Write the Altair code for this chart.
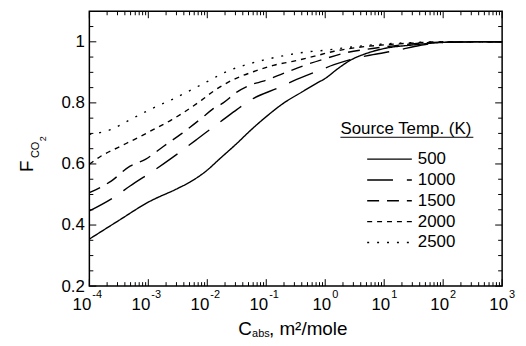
import altair as alt
import pandas as pd

# ---------------- data ----------------
temps = ["500", "1000", "1500", "2000", "2500"]

lx_500 = [-4, -3.5, -3, -2.5, -2.3, -2, -1.8, -1.5, -1.25, -1, -0.7, -0.4, -0.13, 0, 0.2, 0.43, 0.7, 1, 1.5, 2, 2.5, 3]
f_500 = [0.354, 0.415, 0.475, 0.52, 0.54, 0.58, 0.615, 0.667, 0.713, 0.755, 0.80, 0.835, 0.866, 0.88, 0.91, 0.94, 0.962, 0.978, 0.99, 0.998, 1.0, 1.0]

lx_1000 = [-4, -3.55, -3.31, -2.88, -2.6, -2.18, -1.92, -1.73, -1.5, -1.25, -0.8, -0.55, -0.13, 0.15, 0.43, 0.81, 1.22, 1.6, 2, 3]
f_1000 = [0.446, 0.495, 0.528, 0.582, 0.62, 0.68, 0.718, 0.745, 0.778, 0.811, 0.849, 0.871, 0.904, 0.925, 0.942, 0.958, 0.972, 0.988, 0.998, 1.0]

lx_1500 = [-4, -3.63, -3.31, -3.05, -2.74, -2.43, -2.09, -1.92, -1.73, -1.5, -1.25, -1.05, -0.69, -0.35, -0.015, 0.35, 0.8, 1.3, 2, 3]
f_1500 = [0.506, 0.544, 0.593, 0.615, 0.658, 0.70, 0.751, 0.778, 0.80, 0.835, 0.86, 0.871, 0.898, 0.923, 0.944, 0.964, 0.978, 0.99, 0.999, 1.0]

lx_2000 = [-4, -3.8, -3.47, -3.24, -2.91, -2.6, -2.43, -2.09, -1.92, -1.76, -1.56, -1.22, -0.88, -0.55, -0.18, 0.15, 0.49, 1, 1.5, 2, 3]
f_2000 = [0.599, 0.626, 0.658, 0.68, 0.713, 0.745, 0.765, 0.81, 0.835, 0.855, 0.876, 0.902, 0.923, 0.936, 0.953, 0.969, 0.98, 0.99, 0.996, 1.0, 1.0]

lx_2500 = [-4, -3.63, -3.3, -2.93, -2.6, -2.26, -1.92, -1.76, -1.39, -1.05, -0.69, -0.35, -0.015, 0.32, 0.8, 1.3, 2, 3]
f_2500 = [0.697, 0.713, 0.746, 0.782, 0.811, 0.844, 0.878, 0.895, 0.922, 0.94, 0.955, 0.966, 0.972, 0.98, 0.99, 0.996, 1.0, 1.0]

dashes = [[1, 0], [26, 14], [12, 8], [5, 5], [2, 8]]

x_major = [1e-4, 1e-3, 1e-2, 1e-1, 1e0, 1e1, 1e2, 1e3]
x_exp = ["-4", "-3", "-2", "-1", "0", "1", "2", "3"]
x_minor = [k * 10.0 ** d for d in range(-4, 3) for k in range(2, 10)]
y_major = [0.2, 0.4, 0.6, 0.8, 1.0]
y_minor = [0.25, 0.3, 0.35, 0.45, 0.5, 0.55, 0.65, 0.7, 0.75, 0.85, 0.9, 0.95, 1.05]

# ---------------- tables ----------------
rows = []
for t, lxs, fs in zip(temps, [lx_500, lx_1000, lx_1500, lx_2000, lx_2500],
                      [f_500, f_1000, f_1500, f_2000, f_2500]):
    for a, b in zip(lxs, fs):
        rows.append({"temp": t, "x": 10.0 ** a, "f": b})
df = pd.DataFrame(rows)

W, H = 416, 277
FONT = "Liberation Sans"

xs = alt.Scale(type="log", domain=[1e-4, 1e3], nice=False)
ys = alt.Scale(domain=[0.2, 1.1], nice=False, zero=False)
dash_scale = alt.Scale(domain=temps, range=dashes)

lines = alt.Chart(df).mark_line(color="black", strokeWidth=1.4, interpolate="monotone").encode(
    x=alt.X("x:Q", scale=xs, axis=None),
    y=alt.Y("f:Q", scale=ys, axis=alt.Axis(values=y_major, ticks=False, tickSize=0, domain=False,
                                           grid=False, labelFont=FONT, labelFontSize=17,
                                           labelColor="black", labelPadding=5, title=None,
                                           labelExpr="datum.value == 1 ? '1' : format(datum.value, '.1f')")),
    strokeDash=alt.StrokeDash("temp:N", scale=dash_scale, legend=None),
    detail="temp:N",
)

xmaj_df = pd.DataFrame({"x": x_major, "e": x_exp, "neg": [e.startswith("-") for e in x_exp]})
xmin_df = pd.DataFrame({"x": x_minor})
ymaj_df = pd.DataFrame({"y": y_major})
ymin_df = pd.DataFrame({"y": y_minor})

def xticks(d, L):
    b = alt.Chart(d).mark_rule(color="black", strokeWidth=1)
    return [b.encode(x=alt.X("x:Q", scale=xs), y=alt.value(H), y2=alt.value(H - L)),
            b.encode(x=alt.X("x:Q", scale=xs), y=alt.value(0), y2=alt.value(L))]

def yticks(d, L):
    b = alt.Chart(d).mark_rule(color="black", strokeWidth=1)
    return [b.encode(y=alt.Y("y:Q", scale=ys), x=alt.value(0), x2=alt.value(L)),
            b.encode(y=alt.Y("y:Q", scale=ys), x=alt.value(W), x2=alt.value(W - L))]

ticks = xticks(xmaj_df, 7) + xticks(xmin_df, 4) + yticks(ymaj_df, 7) + yticks(ymin_df, 4)

neg_df = xmaj_df[xmaj_df["neg"]]
pos_df = xmaj_df[~xmaj_df["neg"]]
xlabels = []
for d, dx in [(neg_df, 2), (pos_df, 6)]:
    xlabels.append(alt.Chart(d).mark_text(font=FONT, fontSize=17, align="right", baseline="alphabetic",
                                          dx=dx, color="black").encode(
        x=alt.X("x:Q", scale=xs), y=alt.value(H + 24), text=alt.value("10")))
    xlabels.append(alt.Chart(d).mark_text(font=FONT, fontSize=11, align="left", baseline="alphabetic",
                                          dx=dx + 1, color="black").encode(
        x=alt.X("x:Q", scale=xs), y=alt.value(H + 12), text="e:N"))

# axis titles
def txt(s, x, y, size, align="left", angle=0, baseline="alphabetic"):
    return alt.Chart(pd.DataFrame({"t": [s]})).mark_text(
        font=FONT, fontSize=size, align=align, baseline=baseline, angle=angle, color="black"
    ).encode(x=alt.value(x), y=alt.value(y), text="t:N")

titles = [
    txt("C", 150, 326, 19),
    txt("abs", 164, 328, 11),
    txt(", m²/mole", 181, 326, 19),
    txt("F", -57, 162, 19, angle=270),
    txt("CO", -51, 148, 11, angle=270),
    txt("2", -44, 131, 9, angle=270),
    txt("Source Temp. (K)", 253, 124, 17),
]
underline = alt.Chart(pd.DataFrame({"a": [0]})).mark_rule(color="black", strokeWidth=1).encode(
    x=alt.value(253), x2=alt.value(387), y=alt.value(127))

# legend entries (dash pattern taken from the same strokeDash scale)
legend_rows = [149, 170, 191, 212, 233]
legend = []
for t, yy in zip(temps, legend_rows):
    d = pd.DataFrame({"temp": [t]})
    legend.append(alt.Chart(d).mark_rule(color="black", strokeWidth=1.4).encode(
        x=alt.value(280), x2=alt.value(325), y=alt.value(yy),
        strokeDash=alt.StrokeDash("temp:N", scale=dash_scale, legend=None)))
    legend.append(alt.Chart(d).mark_text(font=FONT, fontSize=17, align="left", baseline="middle",
                                         color="black").encode(
        x=alt.value(331), y=alt.value(yy), text="temp:N"))

chart = alt.layer(lines, *ticks, *xlabels, *titles, underline, *legend).properties(
    width=W, height=H,
    autosize=alt.AutoSizeParams(type="none"),
    padding={"left": 82, "top": 2, "right": 16, "bottom": 51},
).configure_view(stroke="black", strokeWidth=1.5)

chart.save("out.html", embed_options={"renderer": "svg", "actions": False})
